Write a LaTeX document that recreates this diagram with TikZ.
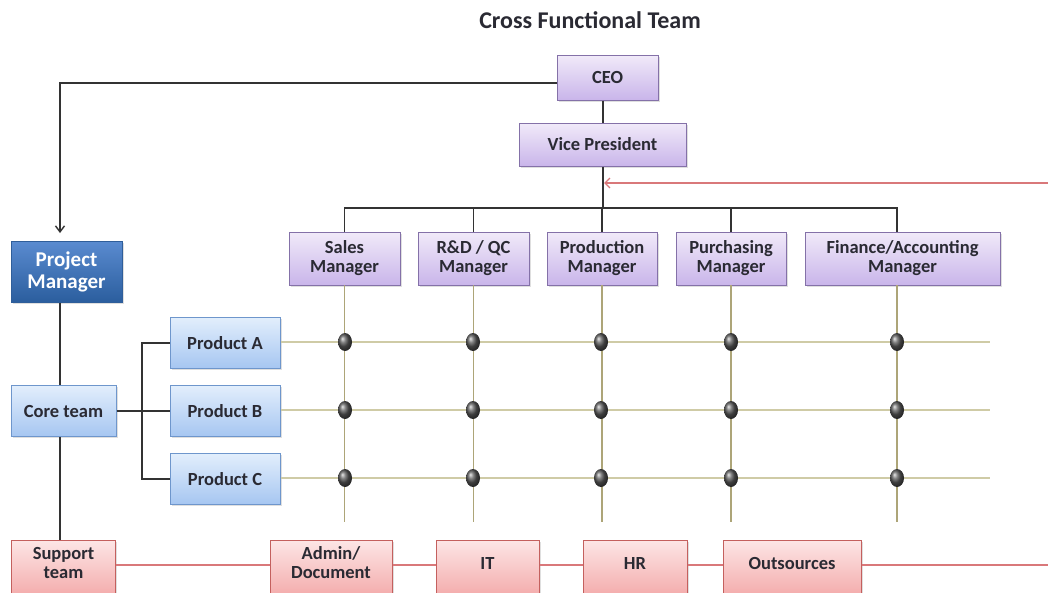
\documentclass[tikz,border=0pt]{standalone}
\usepackage{fontspec}
\setmainfont{Carlito}
\usetikzlibrary{arrows.meta,shadows,shapes.geometric}
\definecolor{purpT}{HTML}{F1EAF9}
\definecolor{purpB}{HTML}{C9B5EA}
\definecolor{purpD}{HTML}{8471A8}
\definecolor{blueT}{HTML}{E2EEFC}
\definecolor{blueB}{HTML}{A6C6F1}
\definecolor{blueD}{HTML}{6E96CC}
\definecolor{pmT}{HTML}{5A8BD0}
\definecolor{pmB}{HTML}{2B5E9E}
\definecolor{pmD}{HTML}{2F5E9A}
\definecolor{redT}{HTML}{FDE6E6}
\definecolor{redB}{HTML}{F3A9A9}
\definecolor{redD}{HTML}{C4605E}
\definecolor{redL}{HTML}{D9787A}
\definecolor{grid}{HTML}{CFCBA6}
\definecolor{gridV}{HTML}{ADA578}
\definecolor{txt}{HTML}{2A2A33}
\tikzset{
  box/.style={draw, line width=1pt, inner sep=0pt, align=center, text=txt,
    font=\bfseries\fontsize{18.5}{19}\selectfont,
    drop shadow={opacity=0.25, shadow xshift=1.5pt, shadow yshift=-1.5pt}},
  purp/.style={box, draw=purpD, top color=purpT, bottom color=purpB},
  bluebox/.style={box, draw=blueD, top color=blueT, bottom color=blueB},
  pmbox/.style={box, draw=pmD, top color=pmT, bottom color=pmB, text=white,
    font=\bfseries\fontsize{21}{22}\selectfont},
  redbox/.style={box, draw=redD, top color=redT, bottom color=redB,
    minimum height=58pt},
  redtext/.style={label={[yshift=6pt, align=center, text=txt,
    font=\bfseries\fontsize{18.5}{19}\selectfont]center:#1}},
  conn/.style={draw=black!80, line width=1.4pt},
  gridh/.style={draw=grid, line width=1.5pt},
  gridv/.style={draw=gridV, line width=1.3pt},
  redline/.style={draw=redL, line width=1.3pt},
  dot/.style={ellipse, minimum width=14pt, minimum height=18pt, inner sep=0pt,
    shading=ball, ball color=black!65}
}
\begin{document}
\begin{tikzpicture}[x=1pt,y=-1pt]
\useasboundingbox (0,0) rectangle (1048,592);
\clip (0,0) rectangle (1048,592);
\fill[white] (0,0) rectangle (1048,592);

\node[font=\bfseries\fontsize{24}{26}\selectfont, text=txt] (title) at (590,20) {Cross Functional Team};

% top hierarchy
\node[purp, minimum width=101pt, minimum height=45pt] (ceo) at (607.5,77.5) {CEO};
\node[purp, minimum width=167pt, minimum height=43pt] (vp) at (602.5,144.5) {Vice President};

\node[purp, minimum width=111pt, minimum height=53pt] (sales) at (344.5,258.5) {Sales\\Manager};
\node[purp, minimum width=111pt, minimum height=53pt] (rd) at (473.5,258.5) {R\&D / QC\\Manager};
\node[purp, minimum width=110pt, minimum height=53pt] (prod) at (602,258.5) {Production\\Manager};
\node[purp, minimum width=110pt, minimum height=53pt] (purch) at (731,258.5) {Purchasing\\Manager};
\node[purp, minimum width=195pt, minimum height=53pt] (fin) at (902.5,258.5) {Finance/Accounting\\Manager};

% left column
\node[pmbox, minimum width=111pt, minimum height=61pt] (pm) at (66.5,271.5) {Project\\Manager};
\node[bluebox, minimum width=105pt, minimum height=51pt] (core) at (63.5,411) {Core team};
\node[bluebox, minimum width=110pt, minimum height=51pt] (pa) at (225,343) {Product A};
\node[bluebox, minimum width=110pt, minimum height=51pt] (pb) at (225,411) {Product B};
\node[bluebox, minimum width=110pt, minimum height=51pt] (pc) at (225,479) {Product C};

% bottom row
\node[redbox, minimum width=104pt, redtext={Support\\team}] (sup) at (63.5,569) {};
\node[redbox, minimum width=122pt, redtext={Admin/\\Document}] (adm) at (331,569) {};
\node[redbox, minimum width=103pt, redtext={IT}] (it) at (487.5,569) {};
\node[redbox, minimum width=104pt, redtext={HR}] (hr) at (635,569) {};
\node[redbox, minimum width=138pt, redtext={Outsources}] (out) at (792,569) {};

% coordinates
\coordinate (bus) at (603,208);
\coordinate (busL) at (344.5,208);
\coordinate (busR) at (897,208);
\coordinate (redR) at (1048,183);
\coordinate (redB) at (1048,565);
\coordinate (vpA) at (604,183);

% grid lines (behind dots)
\foreach \m/\x in {sales/344.5, rd/473.5, prod/602, purch/731, fin/897}{
  \coordinate (\m-end) at (\x,522);
  \draw[gridv] (\x,285) -- (\m-end);
}
\foreach \p/\y in {pa/342, pb/410, pc/478}{
  \coordinate (\p-end) at (990,\y);
  \draw[gridh] (\p.east |- 0,\y) -- (\p-end);
}

% black connectors
\draw[conn] (ceo.south -| bus) -- (vp.north -| bus);
\draw[conn] (vp.south -| bus) -- (bus);
\draw[conn] (sales.north) -- (busL) -- (busR) -- (busR |- fin.north);
\draw[conn] (rd.north) -- (rd.north |- bus);
\draw[conn] (prod.north) -- (prod.north |- bus);
\draw[conn] (purch.north) -- (purch.north |- bus);
\draw[conn, -{Straight Barb[length=6pt,width=9pt]}] (ceo.west |- 0,83) -- (60,83) -- (60,233);
\draw[conn] (pm.south -| 60,0) -- (core.north -| 60,0);
\draw[conn] (core.south -| 60,0) -- (sup.north -| 60,0);
\draw[conn] (core.east) -- (pb.west);
\draw[conn] (pa.west) -- (142,343) -- (142,479) -- (pc.west);

% red connectors
\draw[redline, -{Straight Barb[length=5pt,width=10pt]}] (redR) -- (vpA);
\draw[redline] (sup.east |- redB) -- (adm.west |- redB);
\draw[redline] (adm.east |- redB) -- (it.west |- redB);
\draw[redline] (it.east |- redB) -- (hr.west |- redB);
\draw[redline] (hr.east |- redB) -- (out.west |- redB);
\draw[redline] (out.east |- redB) -- (redB);

% dots
\foreach \m/\x in {sales/345, rd/473, prod/601, purch/731, fin/897}{
  \foreach \p/\y in {pa/342, pb/410, pc/478}{
    \node[dot] (d-\m-\p) at (\x,\y) {};
  }
}
\end{tikzpicture}
\end{document}
